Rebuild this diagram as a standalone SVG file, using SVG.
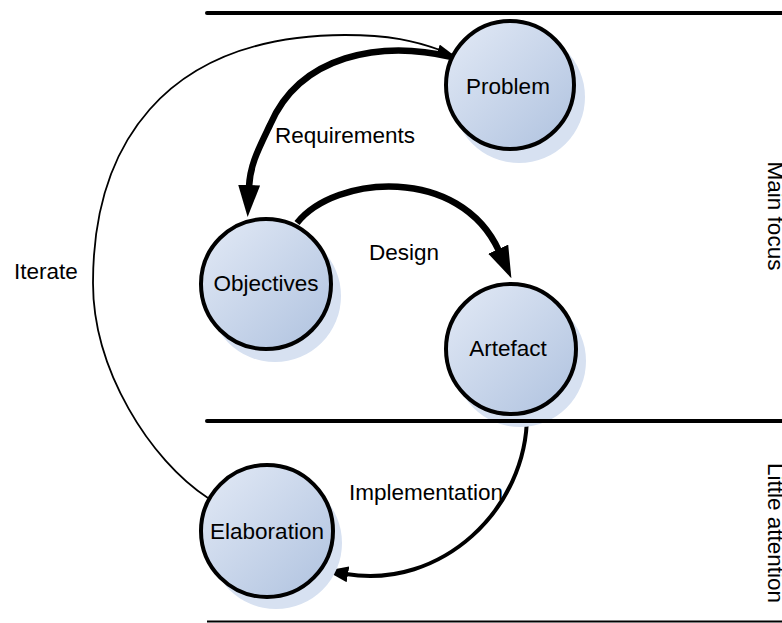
<svg xmlns="http://www.w3.org/2000/svg" width="782" height="623" viewBox="0 0 782 623">
<style>
text{font-family:"Liberation Sans",Arial,sans-serif;font-size:22.5px;fill:#000}
.lbl{text-anchor:middle}
.shadow{fill:#d7e1f1}
.node{fill:url(#g);stroke:#000;stroke-width:4}
.lane{stroke:#000;stroke-width:4;stroke-linecap:round;fill:none}
.thick{fill:none;stroke:#000;stroke-width:6.5}
.mid{fill:none;stroke:#000;stroke-width:4}
.thin{fill:none;stroke:#000;stroke-width:1.8}
</style>
<defs>
<linearGradient id="g" x1="0" y1="0" x2="1" y2="1">
<stop offset="0" stop-color="#e3eaf6"/>
<stop offset="1" stop-color="#afc2df"/>
</linearGradient>
<marker id="aBig" markerUnits="userSpaceOnUse" markerWidth="32" markerHeight="22" viewBox="0 0 32 22" refX="2" refY="11" orient="auto"><path d="M0,0 L32,11 L0,22 z" fill="#000"/></marker>
<marker id="aMid" markerUnits="userSpaceOnUse" markerWidth="22" markerHeight="16" viewBox="0 0 22 16" refX="2" refY="8" orient="auto"><path d="M0,0 L22,8 L0,16 z" fill="#000"/></marker>
<marker id="aSmall" markerUnits="userSpaceOnUse" markerWidth="16" markerHeight="10" viewBox="0 0 16 10" refX="2" refY="5" orient="auto"><path d="M0,0 L16,5 L0,10 z" fill="#000"/></marker>
</defs>
<g id="connectors">
<path id="iterate" class="thin" d="M208,498 C150,460 93,370 93,283 C93,150 160,36 345,35 C390,35 415,41 440,50" marker-end="url(#aSmall)"/>
<path id="requirements" class="thick" d="M452,57 C380,40 300,55 270,125 C258,150 250,165 249,187" marker-end="url(#aBig)"/>
<path id="design" class="thick" d="M297,223 C335,175 460,165 499,251" marker-end="url(#aBig)"/>
<path id="implementation" class="mid" d="M527,413 C528,510 440,590 346,574" marker-end="url(#aMid)"/>
</g>
<g id="problem">
<circle class="shadow" cx="519" cy="97" r="66"/>
<circle class="node" cx="510" cy="85" r="64"/>
<text class="lbl" x="508" y="94">Problem</text>
</g>
<g id="objectives">
<circle class="shadow" cx="275" cy="296" r="66"/>
<circle class="node" cx="266" cy="284" r="65"/>
<text class="lbl" x="266" y="291">Objectives</text>
</g>
<g id="artefact">
<circle class="shadow" cx="520" cy="361" r="66"/>
<circle class="node" cx="511" cy="349" r="65"/>
<text class="lbl" x="508" y="356">Artefact</text>
</g>
<g id="elaboration">
<circle class="shadow" cx="276" cy="543" r="66"/>
<circle class="node" cx="267" cy="531" r="66"/>
<text class="lbl" x="267" y="539">Elaboration</text>
</g>
<g id="lanes">
<line class="lane" x1="207" y1="13" x2="790" y2="13"/>
<line class="lane" x1="207" y1="421" x2="790" y2="421"/>
<line x1="207" y1="621.5" x2="790" y2="621.5" stroke="#000" stroke-width="2"/>
<text class="lbl" transform="translate(768,216) rotate(90)">Main focus</text>
<text class="lbl" transform="translate(768,533) rotate(90)">Little attention</text>
</g>
<g id="labels">
<text class="lbl" x="345" y="143">Requirements</text>
<text class="lbl" x="404" y="260">Design</text>
<text class="lbl" x="46" y="279">Iterate</text>
<text class="lbl" x="426" y="500">Implementation</text>
</g>
</svg>
